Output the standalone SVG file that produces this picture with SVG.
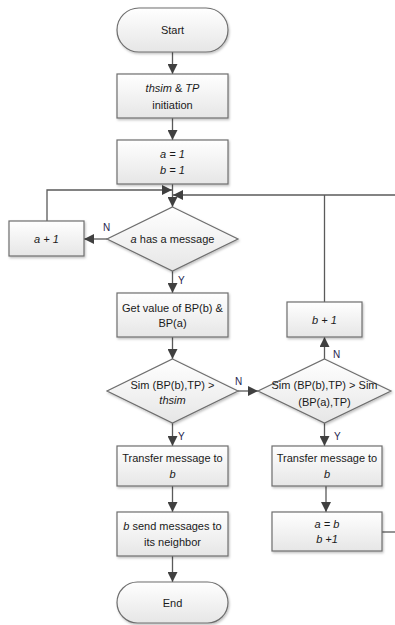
<svg xmlns="http://www.w3.org/2000/svg" width="395" height="625" viewBox="0 0 395 625">
<defs>
<linearGradient id="g" x1="0" y1="0" x2="0" y2="1">
<stop offset="0" stop-color="#ffffff"/>
<stop offset="1" stop-color="#e6e6e6"/>
</linearGradient>
<filter id="sh" x="-10%" y="-10%" width="130%" height="140%">
<feDropShadow dx="1" dy="1.5" stdDeviation="0.8" flood-color="#000" flood-opacity="0.25"/>
</filter>
<marker id="ah" viewBox="0 0 10 10" refX="10" refY="5" markerWidth="10" markerHeight="10" markerUnits="userSpaceOnUse" orient="auto">
<path d="M0,0 L10,5 L0,10 z" fill="#404040"/>
</marker>
</defs>
<style>
.n{fill:url(#g);stroke:#6e6e6e;stroke-width:1.2;filter:url(#sh)}
.t{font-family:"Liberation Sans",Arial,sans-serif;font-size:11px;fill:#1a1a1a;text-anchor:middle}
.i{font-style:italic}
.c{fill:none;stroke:#5a5a5a;stroke-width:1.3}
.a{marker-end:url(#ah)}
.l{font-family:"Liberation Sans",Arial,sans-serif;font-size:10px;fill:#1f1f4f}
</style>
<rect width="395" height="625" fill="#ffffff"/>
<g id="connectors">
<line class="c a" x1="172.5" y1="52" x2="172.5" y2="74"/>
<line class="c a" x1="172.5" y1="118" x2="172.5" y2="140"/>
<line class="c a" x1="172.5" y1="184" x2="172.5" y2="207"/>
<polyline class="c a" points="47,222 47,190 172,190"/>
<polyline class="c a" points="400,195 173,195"/>
<line class="c" x1="324.5" y1="302" x2="324.5" y2="195"/>
<line class="c a" x1="107" y1="239" x2="84" y2="239"/>
<line class="c a" x1="172.5" y1="271" x2="172.5" y2="293"/>
<line class="c a" x1="172.5" y1="337" x2="172.5" y2="359"/>
<line class="c a" x1="238" y1="391" x2="258" y2="391"/>
<line class="c a" x1="324.5" y1="359" x2="324.5" y2="337"/>
<line class="c a" x1="172.5" y1="423" x2="172.5" y2="446"/>
<line class="c a" x1="324.5" y1="423" x2="324.5" y2="446"/>
<line class="c a" x1="172.5" y1="486" x2="172.5" y2="512"/>
<line class="c a" x1="326" y1="486" x2="326" y2="512"/>
<line class="c a" x1="172.5" y1="556" x2="172.5" y2="582"/>
<line class="c" x1="382" y1="532" x2="400" y2="532"/>
<text class="l" x="103" y="231">N</text>
<text class="l" x="178" y="284">Y</text>
<text class="l" x="235" y="385">N</text>
<text class="l" x="333" y="358">N</text>
<text class="l" x="178" y="440">Y</text>
<text class="l" x="334" y="440">Y</text>
</g>
<g id="start">
<rect class="n" x="117" y="8" width="111" height="44" rx="22" ry="22"/>
<text class="t" x="172.5" y="34">Start</text>
</g>
<g id="init">
<rect class="n" x="117" y="74" width="111" height="44"/>
<text class="t" x="172.5" y="92"><tspan class="i">thsim</tspan> &amp; <tspan class="i">TP</tspan></text>
<text class="t" x="172.5" y="109">initiation</text>
</g>
<g id="assign">
<rect class="n" x="117" y="140" width="111" height="44"/>
<text class="t i" x="172.5" y="158">a = 1</text>
<text class="t i" x="172.5" y="174">b = 1</text>
</g>
<g id="has-message">
<polygon class="n" points="172.5,207 238,239 172.5,271 107,239"/>
<text class="t" x="172.5" y="243"><tspan class="i">a</tspan> has a message</text>
</g>
<g id="a-plus">
<rect class="n" x="9" y="221" width="75" height="35"/>
<text class="t i" x="46.5" y="243">a + 1</text>
</g>
<g id="get-value">
<rect class="n" x="117" y="293" width="111" height="44"/>
<text class="t" x="172.5" y="312">Get value of BP(b) &amp;</text>
<text class="t" x="172.5" y="327">BP(a)</text>
</g>
<g id="b-plus">
<rect class="n" x="287" y="302" width="75" height="35"/>
<text class="t i" x="324.5" y="324">b + 1</text>
</g>
<g id="sim-thsim">
<polygon class="n" points="172.5,359 238,391 172.5,423 107,391"/>
<text class="t" x="172.5" y="389">Sim (BP(b),TP) &gt;</text>
<text class="t i" x="172.5" y="404">thsim</text>
</g>
<g id="sim-compare">
<polygon class="n" points="324.5,359 391,391 324.5,423 258,391"/>
<text class="t" x="324.5" y="389">Sim (BP(b),TP) &gt; Sim</text>
<text class="t" x="324.5" y="406">(BP(a),TP)</text>
</g>
<g id="transfer-left">
<rect class="n" x="117" y="446" width="111" height="40"/>
<text class="t" x="172.5" y="462">Transfer message to</text>
<text class="t i" x="172.5" y="478">b</text>
</g>
<g id="transfer-right">
<rect class="n" x="272" y="446" width="110" height="40"/>
<text class="t" x="327" y="462">Transfer message to</text>
<text class="t i" x="327" y="478">b</text>
</g>
<g id="send">
<rect class="n" x="117" y="512" width="111" height="44"/>
<text class="t" x="172.5" y="530"><tspan class="i">b</tspan> send messages to</text>
<text class="t" x="172.5" y="546">its neighbor</text>
</g>
<g id="update">
<rect class="n" x="272" y="512" width="110" height="39"/>
<text class="t i" x="327" y="528">a = b</text>
<text class="t i" x="327" y="543">b +1</text>
</g>
<g id="end">
<rect class="n" x="117" y="582" width="111" height="41" rx="20.5" ry="20.5"/>
<text class="t" x="172.5" y="607">End</text>
</g>
</svg>
